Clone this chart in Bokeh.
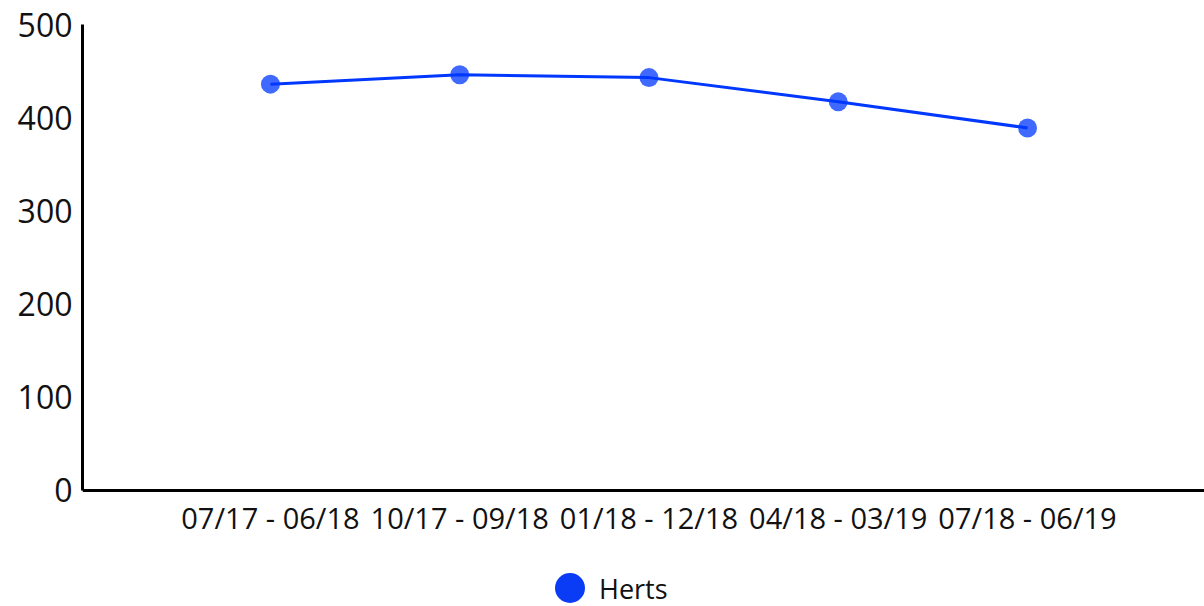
from bokeh.plotting import figure
from bokeh.models import FixedTicker, Range1d, Legend, LegendItem
from bokeh.embed import file_html
from bokeh.resources import INLINE

categories = ["07/17 - 06/18", "10/17 - 09/18", "01/18 - 12/18", "04/18 - 03/19", "07/18 - 06/19"]
herts = [436, 446, 443, 417, 389]
series_name = "Herts"
y_ticks = [0, 100, 200, 300, 400, 500]

xs = list(range(len(categories)))

p = figure(width=1204, height=606, output_backend="svg", toolbar_location=None,
           x_range=Range1d(-0.993, 4.935), y_range=Range1d(-124.5, 500),
           min_border_left=82, min_border_right=0, min_border_top=24, min_border_bottom=0)
p.outline_line_color = None
p.xgrid.visible = False
p.ygrid.visible = False
p.background_fill_color = "white"
p.border_fill_color = "white"

line_color = "#0038ff"
p.line(xs, herts, line_color=line_color, line_width=3)
p.scatter(xs, herts, size=19, fill_color=line_color, fill_alpha=0.75, line_color=None)

# legend-only renderers (no visible data)
dummy = p.scatter([float("nan")], [float("nan")], size=30, fill_color="#0a3cf5", line_color=None)
dummy_text = p.scatter([float("nan")], [float("nan")], size=1, fill_alpha=0, line_alpha=0)

for ax in (p.xaxis[0], p.yaxis[0]):
    ax.axis_line_width = 3
    ax.axis_line_color = "#000000"
    ax.major_tick_line_color = None
    ax.minor_tick_line_color = None
    ax.major_tick_out = 0
    ax.major_tick_in = 0
    ax.minor_tick_out = 0
    ax.major_label_text_font = "Open Sans"
    ax.major_label_text_color = "#111111"
    ax.major_label_standoff = 10

p.xaxis[0].fixed_location = 0
p.xaxis[0].ticker = FixedTicker(ticks=xs)
p.xaxis[0].major_label_overrides = {i: c for i, c in enumerate(categories)}
p.xaxis[0].major_label_text_font_size = "29px"
p.xaxis[0].major_label_standoff = 8
p.yaxis[0].ticker = FixedTicker(ticks=y_ticks)
p.yaxis[0].bounds = (0, 500)
p.yaxis[0].major_label_text_font_size = "32px"

legend_marker = Legend(items=[LegendItem(label=" ", renderers=[dummy])],
                       location=(450, -19), orientation="horizontal",
                       glyph_width=75, glyph_height=75, label_standoff=0,
                       label_text_font_size="10px",
                       padding=0, margin=0, border_line_color=None, background_fill_alpha=0)
p.add_layout(legend_marker, "center")

legend_label = Legend(items=[LegendItem(label=series_name, renderers=[dummy_text])],
                      location=(516, -2), orientation="horizontal",
                      glyph_width=1, glyph_height=40, label_height=40, label_standoff=0,
                      label_text_font="Open Sans", label_text_font_size="27px",
                      label_text_color="#111111", label_text_baseline="middle",
                      padding=0, margin=0, border_line_color=None, background_fill_alpha=0)
p.add_layout(legend_label, "center")

open("out.html", "w").write(file_html(p, INLINE))
